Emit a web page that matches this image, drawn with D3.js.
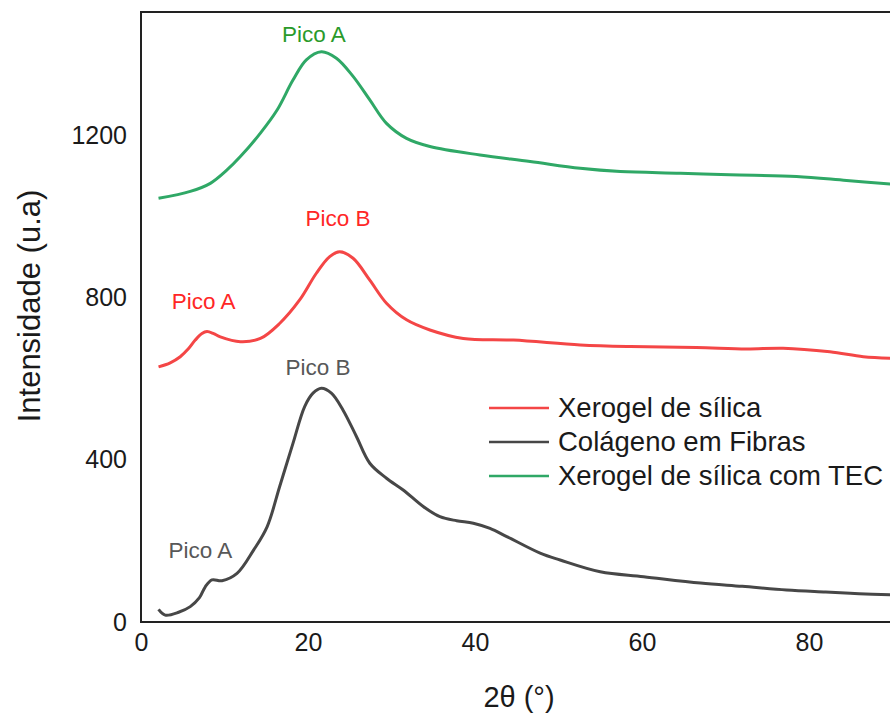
<!DOCTYPE html>
<html>
<head>
<meta charset="utf-8">
<script src="https://cdn.jsdelivr.net/npm/d3@7"></script>
<style>
  body { margin: 0; background: #fff; }
  svg { display: block; font-family: "Liberation Sans", Arial, sans-serif; }
</style>
</head>
<body>
<div id="chart"></div>
<script>
// 2theta values and intensities
var colagenoX = [2.1, 2.9, 4.5, 5.9, 7.0, 7.7, 8.5, 9.7, 11.5, 13.5, 15.1, 16.6, 18.2, 19.6, 20.6, 21.6, 22.8, 24.2, 25.8, 27.4, 29.4, 31.4, 33.8, 35.8, 37.8, 39.8, 41.8, 43.8, 47.8, 50.2, 55, 60.2, 67, 72, 77.3, 82, 86, 89.9];
var colagenoY = [31, 17, 24, 38, 60, 87, 104, 102, 120, 178, 235, 334, 441, 532, 565, 577, 565, 523, 458, 392, 355, 326, 285, 260, 250, 244, 231, 211, 170, 153, 124, 112, 96, 88, 79, 74, 70, 67];

var xerogelX = [2.1, 3.5, 4.7, 5.7, 6.5, 7.3, 7.9, 8.7, 9.5, 11.9, 14.3, 16.6, 19.0, 21.0, 22.6, 23.8, 25.4, 27.4, 29.4, 31.8, 34.6, 38.6, 44.6, 52.6, 58.6, 66.5, 72.5, 76.9, 82.5, 86.5, 89.9];
var xerogelY = [630, 640, 655, 675, 696, 712, 717, 712, 704, 692, 700, 737, 795, 861, 902, 914, 898, 844, 787, 746, 721, 700, 696, 684, 680, 678, 674, 676, 667, 655, 651];

var tecX = [2.1, 5.9, 8.3, 10.3, 11.9, 14.3, 16.3, 18.2, 19.8, 21.6, 23.4, 25.4, 27.4, 29.4, 31.8, 34.6, 40.6, 46.6, 52.6, 57.4, 64.6, 70.5, 78.5, 84.5, 89.9];
var tecY = [1046, 1063, 1083, 1116, 1149, 1207, 1264, 1338, 1388, 1408, 1392, 1347, 1289, 1231, 1194, 1174, 1153, 1137, 1120, 1112, 1108, 1104, 1100, 1090, 1081];

var xTicks = [0, 20, 40, 60, 80];
var yTicks = [0, 400, 800, 1200];

var legendNames = ["Xerogel de sílica", "Colágeno em Fibras", "Xerogel de sílica com TEC"];

// peak labels: text, 2theta, intensity (baseline)
var peakText = ["Pico A", "Pico B", "Pico A", "Pico B", "Pico A"];
var peakX = [20.7, 23.6, 7.5, 21.2, 7.1];
var peakY = [1432, 978, 773, 610, 158];
var peakSeries = [2, 0, 0, 1, 1];

var lineColors = ["#f44646", "#474747", "#2fa866"];
var labelColors = ["#ff2626", "#585858", "#2a9a2a"];

var W = 890, H = 713;
var margin = { top: 12, right: 0, bottom: 91, left: 141 };

var x = d3.scaleLinear().domain([0, 90]).range([margin.left, 892.5]);
var y = d3.scaleLinear().domain([0, 1506]).range([H - margin.bottom, margin.top]);

var svg = d3.select("#chart").append("svg")
  .attr("width", W)
  .attr("height", H);

var series = [
  { xs: xerogelX, ys: xerogelY },
  { xs: colagenoX, ys: colagenoY },
  { xs: tecX, ys: tecY }
];

var line = d3.line()
  .x(function(d) { return x(d[0]); })
  .y(function(d) { return y(d[1]); })
  .curve(d3.curveCatmullRom.alpha(0.5));

// draw curves
series.forEach(function(s, i) {
  svg.append("path")
    .datum(d3.zip(s.xs, s.ys))
    .attr("fill", "none")
    .attr("stroke", lineColors[i])
    .attr("stroke-width", 3)
    .attr("stroke-linejoin", "round")
    .attr("d", line);
});

// frame: left, top, bottom
var frame = d3.path();
frame.moveTo(W, y(1506));
frame.lineTo(x(0), y(1506));
frame.lineTo(x(0), y(0));
frame.lineTo(W, y(0));
svg.append("path")
  .attr("d", frame.toString())
  .attr("fill", "none")
  .attr("stroke", "#222")
  .attr("stroke-width", 2);

// axes, no tick marks
var xAxis = svg.append("g")
  .attr("transform", "translate(0," + y(0) + ")")
  .call(d3.axisBottom(x).tickValues(xTicks).tickSize(0).tickPadding(11).tickFormat(d3.format("d")));
var yAxis = svg.append("g")
  .attr("transform", "translate(" + x(0) + ",0)")
  .call(d3.axisLeft(y).tickValues(yTicks).tickSize(0).tickPadding(14).tickFormat(d3.format("d")));
[xAxis, yAxis].forEach(function(a) {
  a.select(".domain").remove();
  a.selectAll("text")
    .attr("font-size", 25)
    .attr("font-family", "Liberation Sans, Arial, sans-serif")
    .attr("fill", "#1a1a1a");
});

// axis titles
svg.append("text")
  .attr("x", 519)
  .attr("y", 707)
  .attr("text-anchor", "middle")
  .attr("font-size", 29)
  .attr("fill", "#1a1a1a")
  .text("2θ (°)");

svg.append("text")
  .attr("transform", "translate(40,306) rotate(-90)")
  .attr("text-anchor", "middle")
  .attr("font-size", 31)
  .attr("fill", "#1a1a1a")
  .text("Intensidade (u.a)");

// peak labels
peakText.forEach(function(t, i) {
  svg.append("text")
    .attr("x", x(peakX[i]))
    .attr("y", y(peakY[i]))
    .attr("text-anchor", "middle")
    .attr("font-size", 22.5)
    .attr("fill", labelColors[peakSeries[i]])
    .text(t);
});

// legend
var legend = svg.append("g").attr("transform", "translate(489,408)");
legendNames.forEach(function(name, i) {
  var g = legend.append("g").attr("transform", "translate(0," + (i * 34) + ")");
  g.append("line")
    .attr("x1", 0).attr("x2", 60)
    .attr("stroke", lineColors[i])
    .attr("stroke-width", 2.5);
  g.append("text")
    .attr("x", 69)
    .attr("y", 9)
    .attr("font-size", 27.5)
    .attr("fill", "#1a1a1a")
    .text(name);
});
</script>
</body>
</html>
